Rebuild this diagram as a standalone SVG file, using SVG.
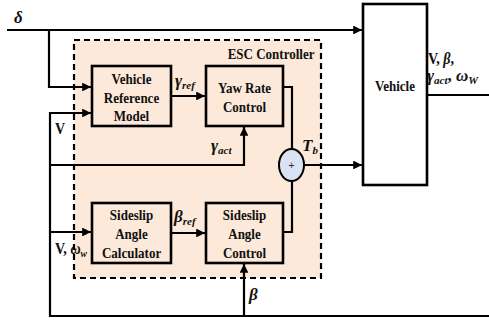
<svg xmlns="http://www.w3.org/2000/svg" width="489" height="320" viewBox="0 0 489 320">
<defs>
<marker id="ah" viewBox="0 0 10 10" refX="10" refY="5" markerWidth="4" markerHeight="4" orient="auto" markerUnits="strokeWidth"><path d="M0,0 L10,5 L0,10 Z" fill="#000"/></marker>
<style>
.ln{fill:none;stroke:#000;stroke-width:2.2}
.bx{fill:none;stroke:#000;stroke-width:2.6}
.t{font-family:"Liberation Serif","Times New Roman",serif;font-weight:bold;font-size:15.5px;fill:#111;transform-box:fill-box;transform-origin:center;transform:scaleX(0.84)}
.l{font-family:"Liberation Serif","Times New Roman",serif;font-weight:bold;font-size:16px;fill:#111;transform-box:fill-box;transform-origin:left center;transform:scaleX(0.88)}
.g{font-family:"Liberation Serif","Times New Roman",serif;font-weight:bold;font-style:italic;font-size:17px;fill:#111}
.s{font-size:11px}
</style>
</defs>
<rect width="489" height="320" fill="#fff"/>
<g id="esc-controller">
<rect x="74" y="40" width="247" height="238" fill="#fde9d9" stroke="#000" stroke-width="2.2" stroke-dasharray="6,4"/>
<text class="t" x="271" y="59" text-anchor="middle">ESC Controller</text>
</g>
<g id="vehicle">
<rect class="bx" x="363" y="4" width="64" height="181" fill="#fff"/>
<text class="t" x="395" y="91" text-anchor="middle">Vehicle</text>
</g>
<g id="vrm">
<rect class="bx" x="92" y="66" width="79" height="60"/>
<text class="t" x="131.5" y="84" text-anchor="middle">Vehicle</text>
<text class="t" x="131.5" y="103" text-anchor="middle">Reference</text>
<text class="t" x="131.5" y="121" text-anchor="middle">Model</text>
</g>
<g id="yrc">
<rect class="bx" x="206" y="66" width="77" height="60"/>
<text class="t" x="244.5" y="93" text-anchor="middle">Yaw Rate</text>
<text class="t" x="244.5" y="112" text-anchor="middle">Control</text>
</g>
<g id="sacalc">
<rect class="bx" x="92" y="203" width="79" height="60"/>
<text class="t" x="131.5" y="220" text-anchor="middle">Sideslip</text>
<text class="t" x="131.5" y="239" text-anchor="middle">Angle</text>
<text class="t" x="131.5" y="258" text-anchor="middle">Calculator</text>
</g>
<g id="sactrl">
<rect class="bx" x="206" y="203" width="77" height="60"/>
<text class="t" x="244.5" y="220" text-anchor="middle">Sideslip</text>
<text class="t" x="244.5" y="239" text-anchor="middle">Angle</text>
<text class="t" x="244.5" y="258" text-anchor="middle">Control</text>
</g>
<g id="connectors">
<path class="ln" d="M7,30 H362" marker-end="url(#ah)"/>
<path class="ln" d="M49,30 V87 H91" marker-end="url(#ah)"/>
<path class="ln" d="M91,113 H50 V316 H489"/>
<path class="ln" d="M50,113 H91" marker-end="url(#ah)"/>
<path class="ln" d="M50,165 H244 V127" marker-end="url(#ah)"/>
<path class="ln" d="M50,232 H91" marker-end="url(#ah)"/>
<path class="ln" d="M244,316 V264" marker-end="url(#ah)"/>
<path class="ln" d="M172,96 H205" marker-end="url(#ah)"/>
<path class="ln" d="M172,233 H205" marker-end="url(#ah)"/>
<path class="ln" d="M284,87 H292 V149"/>
<path class="ln" d="M284,232 H292 V181"/>
<path class="ln" d="M304,165 H362" marker-end="url(#ah)"/>
<path class="ln" d="M428,95 H489"/>
</g>
<g id="sum">
<ellipse cx="291.5" cy="165" rx="12.5" ry="16" fill="#dae3f3" stroke="#000" stroke-width="2"/>
<text x="291.5" y="169" text-anchor="middle" font-family="Liberation Sans, Arial, sans-serif" font-size="11" fill="#333">+</text>
</g>
<g id="labels">
<text class="g" x="14" y="23">δ</text>
<text class="g" x="175" y="86">γ<tspan class="s" dy="3">ref</tspan></text>
<text class="g" x="211" y="151">γ<tspan class="s" dy="3">act</tspan></text>
<text class="g" x="302" y="151">T<tspan class="s" dy="3">b</tspan></text>
<text class="g" x="174" y="222">β<tspan class="s" dy="3">ref</tspan></text>
<text class="l" x="55" y="134">V</text>
<text class="l" x="55" y="254">V, <tspan font-style="italic">ω</tspan><tspan font-style="italic" font-size="11" dy="3">w</tspan></text>
<text class="g" x="249" y="300">β</text>
<text class="l" x="428" y="64">V, <tspan font-style="italic">β</tspan>,</text>
<text class="g" x="427" y="81">γ<tspan class="s" dy="3">act</tspan><tspan dy="-3" font-style="normal">, </tspan>ω<tspan class="s" dy="3">W</tspan></text>
</g>
</svg>
